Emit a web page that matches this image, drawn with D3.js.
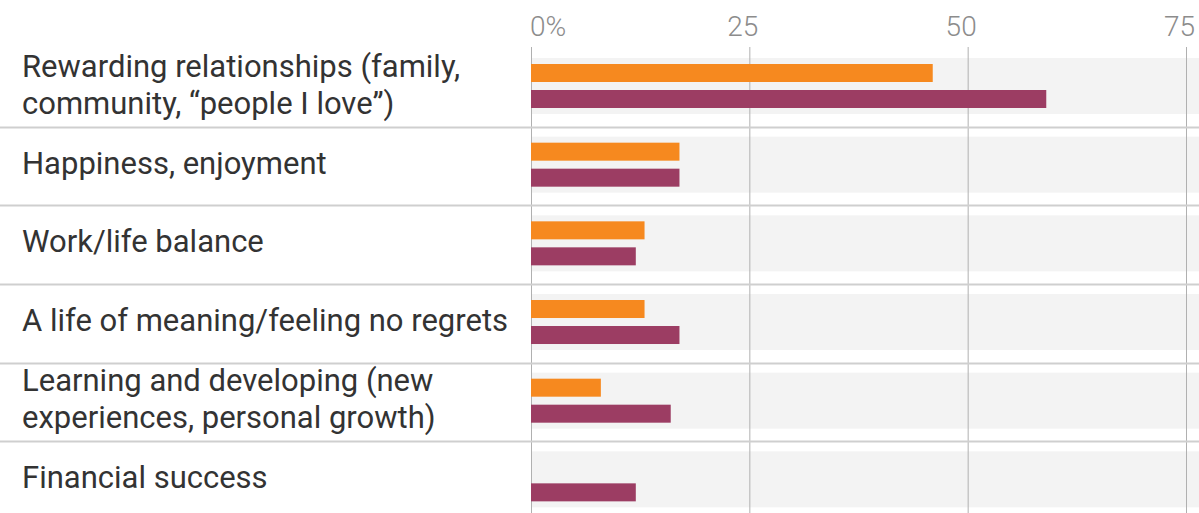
<!DOCTYPE html>
<html>
<head>
<meta charset="utf-8">
<script src="https://cdn.jsdelivr.net/npm/d3@7"></script>
<style>
  body { margin: 0; background: #fff; }
  svg { display: block; }
</style>
</head>
<body>
<div id="chart"></div>
<script>
// categories, each label split into lines
var categories = [
    ["Rewarding relationships (family,", "community, \u201cpeople I love\u201d)"],
    ["Happiness, enjoyment"],
    ["Work/life balance"],
    ["A life of meaning/feeling no regrets"],
    ["Learning and developing (new", "experiences, personal growth)"],
    ["Financial success"]
];
var seriesNames = ["orange", "purple"];
var orangeValues = [46, 17, 13, 13, 8, 0];
var purpleValues = [59, 17, 12, 17, 16, 12];
var tickValues = [0, 25, 50, 75];
var tickLabels = ["0%", "25", "50", "75"];

var width = 1199, height = 513;
var colors = { orange: "#f6891f", purple: "#9c3d63" };

var svg = d3.select("#chart").append("svg")
    .attr("width", width)
    .attr("height", height);

var x = d3.scaleLinear().domain([0, 75]).range([531, 1186]);

var y = d3.scaleBand()
    .domain(d3.range(categories.length))
    .range([48, 48 + 78.67 * categories.length]);

var ySeries = d3.scaleBand()
    .domain(seriesNames)
    .range([16, 60])
    .paddingInner(0.3077);

var rows = categories.map(function(c, i) {
    return { i: i, label: c, orange: orangeValues[i], purple: purpleValues[i] };
});

// grey tracks behind bars
svg.selectAll("rect.track").data(rows).enter()
    .append("rect")
    .attr("class", "track")
    .attr("x", x(0))
    .attr("width", width - x(0))
    .attr("y", function(d) { return y(d.i) + 10; })
    .attr("height", 56)
    .attr("fill", "#f3f3f3");

// vertical gridlines
svg.selectAll("line.grid").data(tickValues).enter()
    .append("line")
    .attr("class", "grid")
    .attr("x1", function(d) { return x(d) + 0.5; })
    .attr("x2", function(d) { return x(d) + 0.5; })
    .attr("y1", 47)
    .attr("y2", height)
    .attr("stroke", "#b0b0b0")
    .attr("stroke-width", 1);

// tick labels
svg.selectAll("text.tick").data(tickValues).enter()
    .append("text")
    .attr("class", "tick")
    .attr("x", function(d) { return d === 0 ? x(d) - 1 : x(d) + 9; })
    .attr("y", 36)
    .attr("text-anchor", function(d) { return d === 0 ? "start" : "end"; })
    .attr("font-family", "Roboto, sans-serif")
    .attr("font-weight", 300)
    .attr("font-size", "28px")
    .attr("fill", "#8c8c8c")
    .text(function(d, i) { return tickLabels[i]; });

// row separators
svg.selectAll("line.sep").data(rows.slice(0, rows.length - 1)).enter()
    .append("line")
    .attr("class", "sep")
    .attr("x1", 0)
    .attr("x2", width)
    .attr("y1", function(d) { return Math.round(y(d.i) + y.bandwidth()) + 0.5; })
    .attr("y2", function(d) { return Math.round(y(d.i) + y.bandwidth()) + 0.5; })
    .attr("stroke", "#cfcfcf")
    .attr("stroke-width", 2);

// bars
seriesNames.forEach(function(s) {
    svg.selectAll("rect.bar-" + s).data(rows).enter()
        .append("rect")
        .attr("class", "bar-" + s)
        .attr("x", x(0))
        .attr("y", function(d) { return y(d.i) + ySeries(s); })
        .attr("width", function(d) { return x(d[s]) - x(0); })
        .attr("height", ySeries.bandwidth())
        .attr("fill", colors[s]);
});

// category labels
var labels = svg.selectAll("text.label").data(rows).enter()
    .append("text")
    .attr("class", "label")
    .attr("font-family", "Roboto, sans-serif")
    .attr("font-size", "31px")
    .attr("fill", "#333");

labels.each(function(d) {
    var t = d3.select(this);
    var mid = y(d.i) + y.bandwidth() / 2;
    var n = d.label.length;
    d.label.forEach(function(line, k) {
        t.append("tspan")
            .attr("x", 22)
            .attr("y", mid + (k - (n - 1) / 2) * 37)
            .attr("dy", "0.25em")
            .text(line);
    });
});
</script>
</body>
</html>
